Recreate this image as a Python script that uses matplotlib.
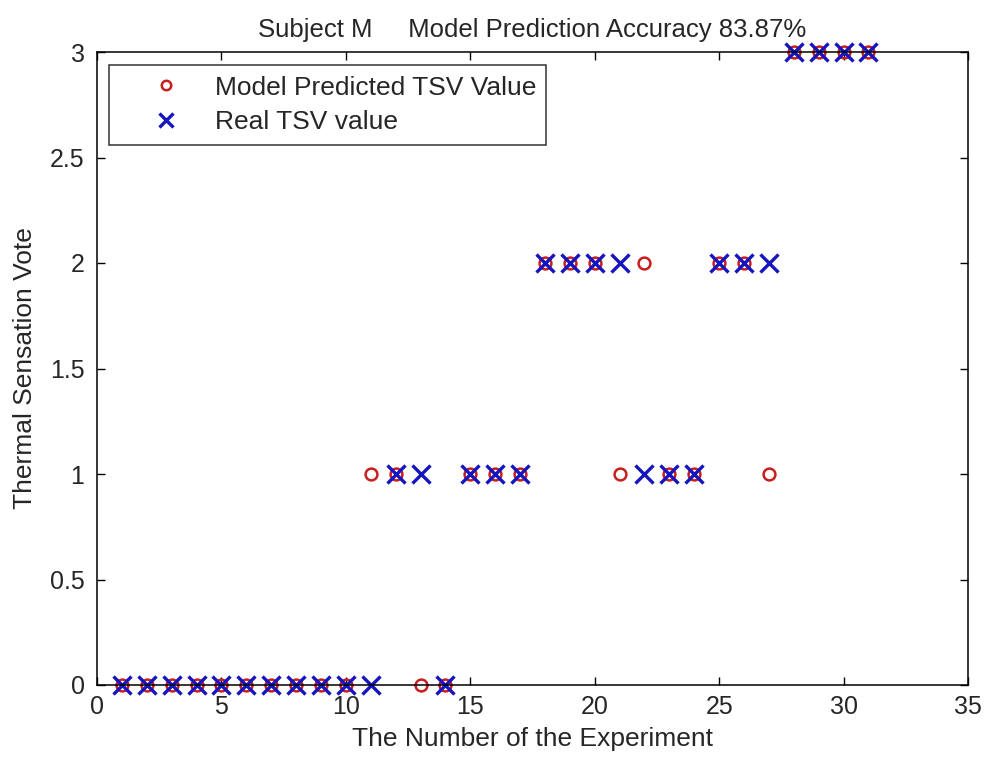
import numpy as np
import matplotlib
matplotlib.use("Agg")
import matplotlib.pyplot as plt

plt.rcParams['font.family'] = ['Liberation Sans', 'DejaVu Sans']
TEXT = '#262626'

experiment = list(range(1, 32))
predicted_tsv = [0, 0, 0, 0, 0, 0, 0, 0, 0, 0,
                 1, 1, 0, 0, 1, 1, 1, 2, 2, 2,
                 1, 2, 1, 1, 2, 2, 1, 3, 3, 3, 3]
real_tsv = [0, 0, 0, 0, 0, 0, 0, 0, 0, 0,
            0, 1, 1, 0, 1, 1, 1, 2, 2, 2,
            2, 1, 1, 1, 2, 2, 2, 3, 3, 3, 3]
x_ticks = [0, 5, 10, 15, 20, 25, 30, 35]
y_ticks = [0, 0.5, 1, 1.5, 2, 2.5, 3]

W, H = 991, 760
fig = plt.figure(figsize=(W / 100, H / 100), dpi=100)
ax = fig.add_axes([97 / W, 1 - 685 / H, 871 / W, 633 / H])

ax.plot(experiment, predicted_tsv, linestyle='none', marker='o',
        markersize=8.5, markerfacecolor='none', markeredgecolor='#c81e1e',
        markeredgewidth=1.8, label='Model Predicted TSV Value', clip_on=False)
ax.plot(experiment, real_tsv, linestyle='none', marker='x',
        markersize=13, markeredgecolor='#1414c0', markeredgewidth=2.4,
        label='Real TSV value', clip_on=False)

ax.set_xlim(0, 35)
ax.set_ylim(0, 3)
ax.set_xticks(x_ticks)
ax.set_yticks(y_ticks)
ax.set_xticklabels([str(t) for t in x_ticks])
ax.set_yticklabels(['0', '0.5', '1', '1.5', '2', '2.5', '3'])
ax.tick_params(axis='x', pad=7)
ax.tick_params(axis='y', pad=9)
ax.tick_params(direction='in', top=True, right=True, length=6,
               labelsize=18, width=1.0, labelcolor=TEXT)
for s in ax.spines.values():
    s.set_linewidth(1.1)

ax.set_xlabel('The Number of the Experiment', fontsize=19, labelpad=6, color=TEXT)
ax.set_ylabel('Thermal Sensation Vote', fontsize=19, labelpad=9, color=TEXT)
ax.set_title('Subject M     Model Prediction Accuracy 83.87%', fontsize=18.5,
             pad=11, color=TEXT)

leg = ax.legend(loc='upper left', fontsize=19, frameon=True, fancybox=False,
                edgecolor='black', borderpad=0.4, handlelength=3.5,
                handletextpad=0.1, labelspacing=0.4, borderaxespad=0,
                bbox_to_anchor=(109 / W, 1 - 65 / H),
                bbox_transform=fig.transFigure, markerscale=0.8)
leg.get_frame().set_linewidth(1.1)
for t in leg.get_texts():
    t.set_color(TEXT)

fig.savefig('out.png', dpi=100)
